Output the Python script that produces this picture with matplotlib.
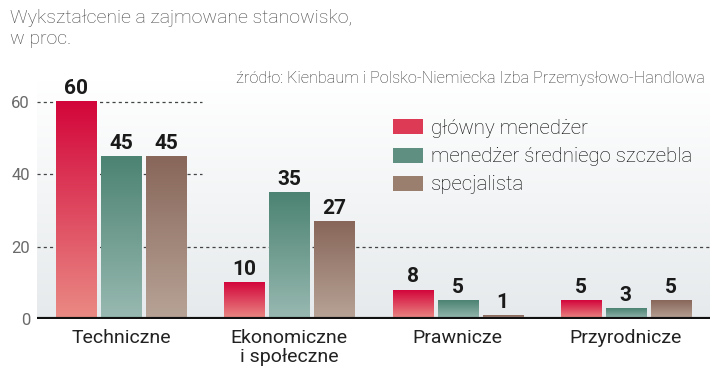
import matplotlib.pyplot as plt
import numpy as np
from matplotlib.colors import LinearSegmentedColormap
from matplotlib.patches import Patch

categories = ["Techniczne", "Ekonomiczne\ni społeczne", "Prawnicze", "Przyrodnicze"]
series_names = ["główny menedżer", "menedżer średniego szczebla", "specjalista"]
glowny = [60, 10, 8, 5]
sredni = [45, 35, 5, 3]
specjalista = [45, 27, 1, 5]
yticks = [0, 20, 40, 60]

# gradient colours: (top, bottom)
grads = [("#d3063b", "#ea8a84"), ("#4c8372", "#98b9b1"), ("#88675a", "#b7a396")]
legend_cols = ["#dd3a55", "#5f8f80", "#9a7e6e"]

fig = plt.figure(figsize=(7.2, 3.78), dpi=100)
ax = fig.add_axes([37 / 720, 59 / 378, 673 / 720, 66 * 3.617 / 378])

x = np.arange(len(categories))
w = 40 / 168
off = 45 / 168

# background gradient
bg = LinearSegmentedColormap.from_list("bg", ["#e6eaec", "#ffffff"])
ax.imshow(np.linspace(0, 1, 100).reshape(-1, 1), cmap=bg, aspect="auto",
          extent=[-0.5, 3.5, 0, 66], origin="lower", zorder=0)

for i, vals in enumerate([glowny, sredni, specjalista]):
    bars = ax.bar(x + (i - 1) * off, vals, width=w, color="none", zorder=2)
    cm = LinearSegmentedColormap.from_list("g%d" % i, [grads[i][1], grads[i][0]])
    for b, v in zip(bars, vals):
        bx, bw, bh = b.get_x(), b.get_width(), b.get_height()
        ax.imshow(np.linspace(0, 1, 100).reshape(-1, 1), cmap=cm, aspect="auto",
                  extent=[bx, bx + bw, 0, bh], origin="lower", zorder=2)
        ax.text(bx + bw / 2, bh + 1.0, str(v), ha="center", va="bottom",
                fontsize=15, fontweight="bold", family="Roboto",
                color="#1a1a1a", zorder=4)

ax.set_xlim(-0.5, 3.5)
ax.set_ylim(0, 66)

# dashed grid lines
ax.axhline(60, xmin=0, xmax=0.245, color="#444444", ls=(0, (2.5, 2.5)), lw=0.9, zorder=1)
ax.axhline(40, xmin=0, xmax=0.245, color="#444444", ls=(0, (2.5, 2.5)), lw=0.9, zorder=1)
ax.axhline(20, xmin=0, xmax=1, color="#444444", ls=(0, (2.5, 2.5)), lw=0.9, zorder=1)
ax.axhline(0, color="#111111", lw=3, zorder=5)

for s in ax.spines.values():
    s.set_visible(False)
ax.set_yticks(yticks)
ax.set_yticklabels([str(t) for t in yticks], color="#6a6a6a", fontsize=12,
                   family="Roboto")
ax.tick_params(axis="y", length=0, pad=5)
ax.set_xticks(x)
ax.set_xticklabels(categories, fontsize=14, color="#222222", family="Roboto",
                   linespacing=1.1)
ax.tick_params(axis="x", length=0, pad=7)

fig.text(10 / 720, 1 - 9 / 378, "Wykształcenie a zajmowane stanowisko,\nw proc.",
         ha="left", va="top", fontsize=14, color="#444444", family="Roboto",
         fontweight="light", linespacing=1.25)
fig.text(705 / 720, 1 - 79 / 378,
         "źródło: Kienbaum i Polsko-Niemiecka Izba Przemysłowo-Handlowa",
         ha="right", va="center", fontsize=11.7, color="#333333", family="Roboto",
         fontweight="light")

handles = [Patch(facecolor=c, edgecolor="none") for c in legend_cols]
fig.legend(handles, series_names, loc="upper left", bbox_to_anchor=(393 / 720, 1 - 119 / 378),
           frameon=False, handlelength=1.45, handleheight=0.75,
           handletextpad=0.4, labelspacing=0.45, borderpad=0, borderaxespad=0,
           prop={"family": "Roboto", "weight": "light", "size": 14.7})

fig.savefig("out.png", dpi=100)
